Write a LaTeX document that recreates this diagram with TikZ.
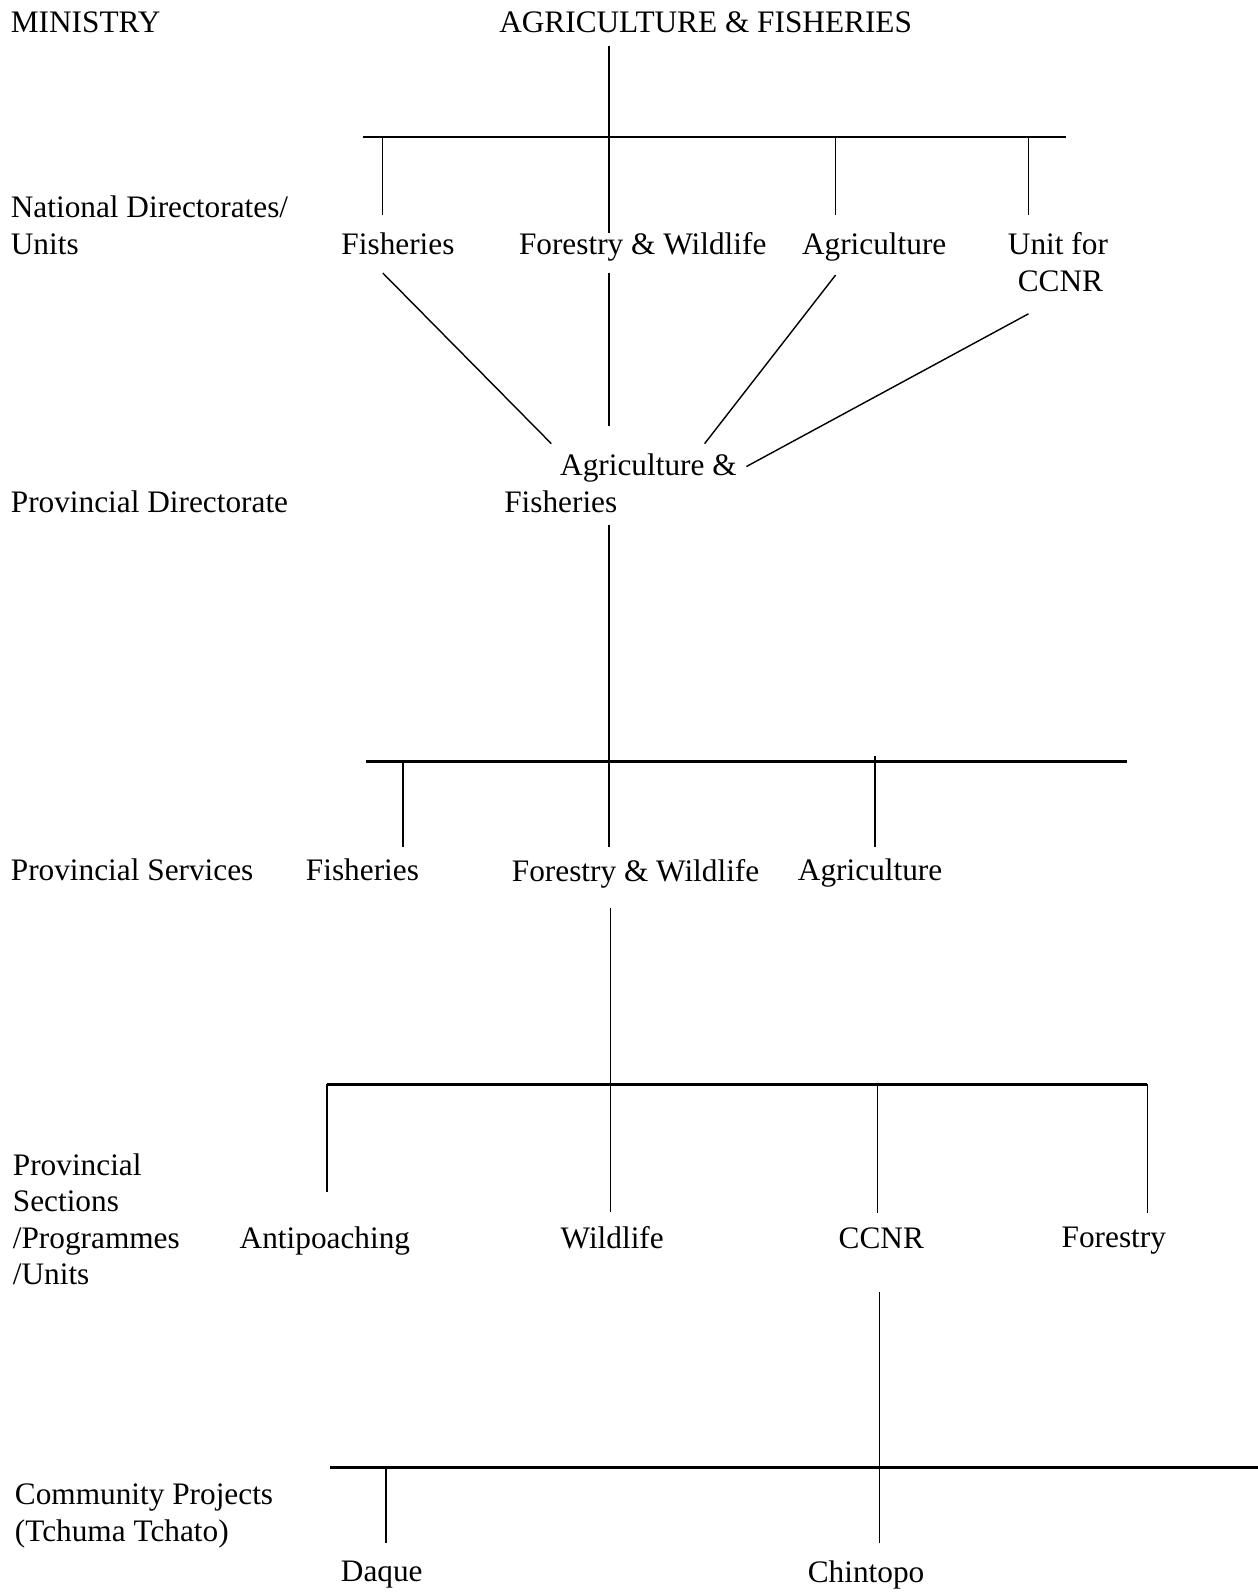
\documentclass[tikz,border=0pt]{standalone}
\usepackage{fontspec}
\setmainfont{Liberation Serif}
\usetikzlibrary{calc}
\begin{document}
\begin{tikzpicture}[x=0.01015cm,y=-0.01015cm,line width=0.4pt,
every node/.style={font=\fontsize{8.9}{10.4}\selectfont},
lvl/.style={anchor=west,inner sep=0pt,align=left},
unit/.style={inner sep=0pt,align=center,text depth=0pt},
bus/.style={line width=0.8pt}]
\useasboundingbox (0,0) rectangle (1239,1568);

% level names
\node[lvl] (lmin) at (10,22) {MINISTRY};
\node[lvl] (lnat) at (10,222) {National Directorates/\\Units};
\node[lvl] (lpdir) at (10,494) {Provincial Directorate};
\node[lvl] (lpserv) at (10,857) {Provincial Services};
\node[lvl] (lpsec) at (12,1201) {Provincial\\Sections\\/Programmes\\/Units};
\node[lvl] (lcomm) at (14,1493) {Community Projects\\(Tchuma Tchato)};

% units
\node[unit] (top) at (695,22) {AGRICULTURE \& FISHERIES};
\node[unit] (nfish) at (392,240) {Fisheries};
\node[unit] (nforw) at (633,240) {Forestry \& Wildlife};
\node[unit] (nagri) at (861,240) {Agriculture};
\node[unit] (nccnr) at (1042,258) {Unit for\\\hspace*{1.4pt}CCNR};
\node[lvl] (prov) at (496,476) {\hspace*{15.9pt}Agriculture \&\\Fisheries};
\node[unit] (sfish) at (357,857) {Fisheries};
\node[unit] (sforw) at (626,857) {Forestry \& Wildlife};
\node[unit] (sagri) at (857,857) {Agriculture};
\node[unit] (antip) at (320,1219) {Antipoaching};
\node[unit] (wild) at (603,1219) {Wildlife};
\node[unit] (ccnr) at (868,1219) {CCNR};
\node[unit] (fore) at (1097,1219) {Forestry};
\node[unit] (daque) at (376,1548) {Daque};
\node[unit] (chint) at (853,1548) {Chintopo};

% bus lines
\coordinate (b1w) at (358,135); \coordinate (b1e) at (1050,135);
\coordinate (b1a) at (377,135); \coordinate (b1b) at (600,135);
\coordinate (b1c) at (823,135); \coordinate (b1d) at (1013,135);
\coordinate (b2w) at (360,750); \coordinate (b2e) at (1110,750);
\coordinate (b2a) at (397,750); \coordinate (b2b) at (600,750);
\coordinate (b2c) at (862,750);
\coordinate (b3w) at (322,1068); \coordinate (b3e) at (1130,1068);
\coordinate (b3a) at (322,1068); \coordinate (b3b) at (601,1068);
\coordinate (b3c) at (864,1068); \coordinate (b3d) at (1130,1068);
\coordinate (b4w) at (325,1445); \coordinate (b4e) at (1239,1445);
\coordinate (b4a) at (380,1445); \coordinate (b4b) at (866,1445);
\draw[bus] (b1w) -- (b1e);
\draw[bus] (b2w) -- (b2e);
\draw[bus] (b3w) -- (b3e);
\draw[bus] (b4w) -- (b4e);

% ministry to national
\draw[shorten <=3.6pt] (top.south -| b1b) -- (b1b);
\draw[shorten >=4.8pt] (b1a) -- (b1a |- nfish.north);
\draw[shorten >=-0.2pt] (b1b) -- (b1b |- nforw.north);
\draw[shorten >=4.8pt] (b1c) -- (b1c |- nagri.north);
\draw[shorten >=4.8pt] (b1d) -- (b1d |- nccnr.north);

% national to provincial directorate
\draw ($(b1a |- nfish.south)+(0,17.5)$) -- ($(prov.north west)+(47,-9.5)$);
\draw[shorten <=5pt,shorten >=7.9pt] (b1b |- nforw.south) -- (prov.north -| b1b);
\draw ($(b1c |- nagri.south)+(0,19.5)$) -- ($(prov.north west)+(198,-9.5)$);
\draw ($(b1d |- nccnr.south)+(0,21.5)$) -- ($(prov.north east)+(9,13)$);

% provincial services
\draw[shorten <=3.2pt] (prov.south -| b2b) -- (b2b);
\draw[shorten >=3.3pt] (b2a) -- (b2a |- sfish.north);
\draw[shorten >=3.3pt] (b2b) -- (b2b |- sforw.north);
\draw[shorten >=3.3pt] ($(b2c)+(0,-5)$) -- (b2c |- sagri.north);

% sections
\draw[shorten <=7.4pt] (sforw.south -| b3b) -- (b3b);
\draw[shorten >=9.7pt] (b3a) -- (b3a |- antip.north);
\draw[shorten >=3.9pt] (b3b) -- (b3b |- wild.north);
\draw[shorten >=3.9pt] (b3c) -- (b3c |- ccnr.north);
\draw[shorten >=3.9pt] (b3d) -- (b3d |- fore.north);

% community projects
\draw[shorten <=12.3pt] (ccnr.south -| b4b) -- (b4b);
\draw[shorten >=5pt] (b4a) -- (b4a |- daque.north);
\draw[shorten >=5pt] (b4b) -- (b4b |- chint.north);
\end{tikzpicture}
\end{document}
